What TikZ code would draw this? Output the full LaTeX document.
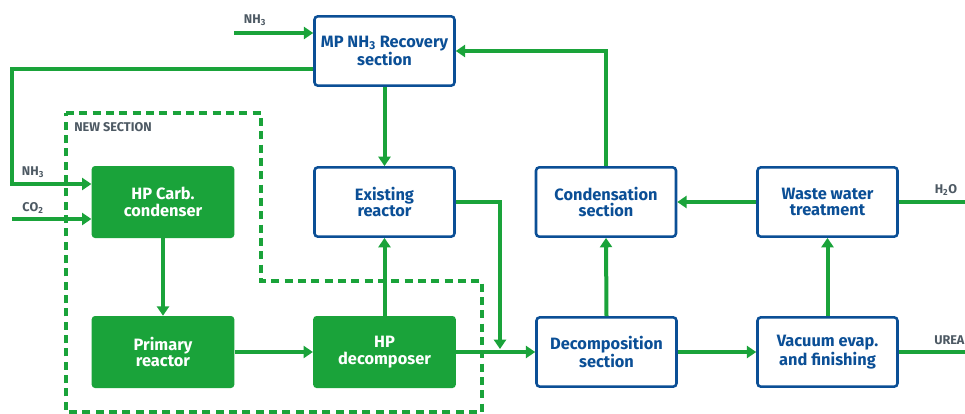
\documentclass[tikz,border=0pt]{standalone}
\usepackage{fontspec}
\setmainfont{Fira Sans}
\usetikzlibrary{arrows.meta,calc}
\definecolor{pgreen}{HTML}{1AA33A}
\definecolor{pblue}{HTML}{0B4F96}
\definecolor{pgray}{HTML}{4D5963}
\begin{document}
\begin{tikzpicture}[x=0.75pt,y=-0.75pt,
  box/.style={draw=pblue,line width=1.9pt,fill=white,rounded corners=2.5pt,
    minimum width=105pt,minimum height=52pt,align=center,text=pblue,
    font=\fontsize{12.3}{12.6}\selectfont\bfseries,inner sep=1pt},
  gbox/.style={fill=pgreen,rounded corners=2.5pt,
    minimum width=107pt,minimum height=54pt,align=center,text=white,
    font=\fontsize{12.3}{12.6}\selectfont\bfseries,inner sep=1pt},
  flow/.style={draw=pgreen,line width=3pt,-{Triangle[length=7pt,width=9pt]}},
  flowline/.style={draw=pgreen,line width=3pt},
  lbl/.style={text=pgray,font=\fontsize{9.5}{10}\selectfont\bfseries,inner sep=0pt},
  newsec/.style={draw=pgreen,line width=2.6pt,dash pattern=on 6pt off 4pt}]
\useasboundingbox (0,0) rectangle (965,414);
% dashed new section
\draw[newsec] (66,113) -- (261,113) -- (261,281) -- (482,281) -- (482,412) -- (66,412) -- cycle;
\node[lbl,anchor=west] (newlbl) at (74,127) {NEW SECTION};
% boxes
\node[box] (mp) at (384.5,51) {MP NH\textsubscript{3} Recovery\\section};
\node[box] (ex) at (384.5,202) {Existing\\reactor};
\node[gbox] (hpc) at (163,202) {HP Carb.\\condenser};
\node[box] (cond) at (606,202) {Condensation\\section};
\node[box] (ww) at (827.5,202) {Waste water\\treatment};
\node[gbox] (pr) at (163,352) {Primary\\reactor};
\node[gbox] (hpd) at (384.5,352) {HP\\decomposer};
\node[box] (dec) at (606.5,352) {Decomposition\\section};
\node[box] (vac) at (827.5,352) {Vacuum evap.\\and finishing};
% coordinates
\coordinate (nh3in) at (234,33);
\coordinate (c1) at (12,69);
\coordinate (c2) at (12,184);
\coordinate (co2) at (12,219);
\coordinate (h2o) at (965,202);
\coordinate (urea) at (965,352);
\coordinate (j) at (500,349);
% labels
\node[lbl] (l1) at (255,20) {NH\textsubscript{3}};
\node[lbl] (l2) at (33,172) {NH\textsubscript{3}};
\node[lbl] (l3) at (33,208) {CO\textsubscript{2}};
\node[lbl] (l4) at (946,190) {H\textsubscript{2}O};
\node[lbl,anchor=west] (l5) at (934,340) {UREA};
% flows
\draw[flow] (nh3in) -- (nh3in -| mp.west);
\draw[flow] (c1 -| mp.west) -- (c1) -- (c2) -- (c2 -| hpc.west);
\draw[flow] (co2) -- (co2 -| hpc.west);
\draw[flow] (mp.south) -- (ex.north);
\draw[flow] (cond.north) |- (mp.east);
\draw[flow] (ww.west) -- (cond.east);
\draw[flowline] (ww.east) -- (h2o);
\draw[flow] (ex.east) -| (j);
\draw[flow] (hpc.south) -- (pr.north);
\draw[flow] (pr.east) -- (hpd.west);
\draw[flow] (hpd.north) -- (ex.south);
\draw[flow] (hpd.east) -- (dec.west);
\draw[flow] (dec.north) -- (cond.south);
\draw[flow] (dec.east) -- (vac.west);
\draw[flow] (vac.north) -- (ww.south);
\draw[flowline] (vac.east) -- (urea);
\end{tikzpicture}
\end{document}
